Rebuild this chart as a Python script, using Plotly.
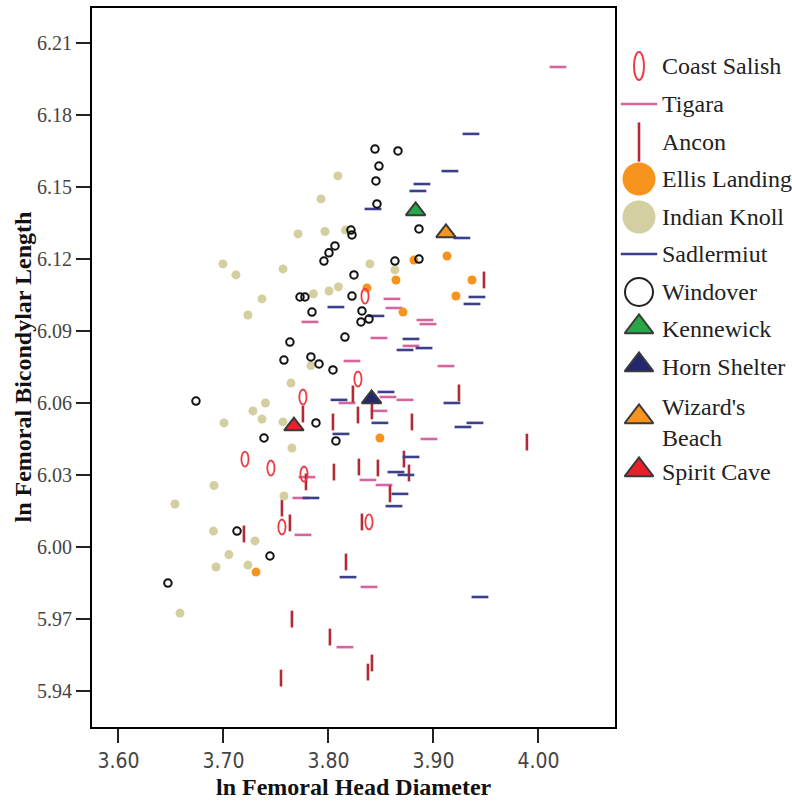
import plotly.graph_objects as go

# ln femoral head diameter (x) against ln femoral bicondylar length (y)

coast_salish_x = [3.8348, 3.8281, 3.7757, 3.7205, 3.7452, 3.7767, 3.7557, 3.8386]
coast_salish_y = [6.1047, 6.0701, 6.0626, 6.0367, 6.0330, 6.0305, 6.0084, 6.0105]

tigara_x = [4.0186, 3.8605, 3.8624, 3.7824, 3.8919, 3.8948, 3.8481, 3.8786, 3.8224, 3.9119, 3.8567,
            3.8729, 3.8176, 3.8481, 3.8957, 3.7795, 3.8376, 3.8529, 3.7738, 3.7757, 3.8386, 3.8157]
tigara_y = [6.2002, 6.1035, 6.0997, 6.0939, 6.0947, 6.0930, 6.0872, 6.0839, 6.0776, 6.0755, 6.0626,
            6.0614, 6.0601, 6.0568, 6.0451, 6.0292, 6.0280, 6.0259, 6.0205, 6.0051, 5.9834, 5.9583]

ancon_x = [3.9481, 3.8233, 3.9243, 3.8281, 3.8414, 3.7757, 3.8043, 3.8795, 3.9890, 3.8719, 3.8052, 3.8290, 3.8471,
           3.8767, 3.8586, 3.7786, 3.7557, 3.7633, 3.7195, 3.8319, 3.8167, 3.7652, 3.8014, 3.8414, 3.8376, 3.7548]
ancon_y = [6.1114, 6.0639, 6.0643, 6.0551, 6.0568, 6.0555, 6.0522, 6.0522, 6.0438, 6.0367, 6.0313, 6.0334, 6.0330,
           6.0309, 6.0222, 6.0272, 6.0163, 6.0101, 6.0055, 6.0105, 5.9938, 5.9700, 5.9625, 5.9517, 5.9479, 5.9454]

ellis_landing_x = [3.9129, 3.8814, 3.9367, 3.9214, 3.8643, 3.8367, 3.8710, 3.8490, 3.7310]
ellis_landing_y = [6.1214, 6.1197, 6.1114, 6.1047, 6.1114, 6.1081, 6.0980, 6.0455, 5.9896]

indian_knoll_x = [3.8090, 3.7929, 3.7710, 3.7967, 3.8162, 3.6995, 3.7119, 3.7567, 3.7367, 3.7233, 3.7857,
                  3.8005, 3.8095, 3.8395, 3.8633, 3.7833, 3.7643, 3.7400, 3.7281, 3.7367, 3.7005, 3.7567,
                  3.7652, 3.6910, 3.6538, 3.7576, 3.6905, 3.7300, 3.7052, 3.6929, 3.7233, 3.6586]
indian_knoll_y = [6.1548, 6.1452, 6.1306, 6.1316, 6.1322, 6.1181, 6.1135, 6.1160, 6.1035, 6.0968, 6.1056,
                  6.1068, 6.1085, 6.1181, 6.1156, 6.0757, 6.0684, 6.0601, 6.0568, 6.0534, 6.0518, 6.0522,
                  6.0413, 6.0257, 6.0180, 6.0213, 6.0067, 6.0026, 5.9969, 5.9917, 5.9925, 5.9725]

sadlermiut_x = [3.9357, 3.9157, 3.8890, 3.8852, 3.8424, 3.9271, 3.9414, 3.9367, 3.8071, 3.8452, 3.8786, 3.8729,
                3.8910, 3.8548, 3.8100, 3.9176, 3.8490, 3.9281, 3.9395, 3.8119, 3.8786, 3.8643, 3.8738, 3.8681,
                3.8624, 3.7833, 3.8186, 3.9443]
sadlermiut_y = [6.1723, 6.1568, 6.1514, 6.1485, 6.1410, 6.1289, 6.1043, 6.1014, 6.1001, 6.0964, 6.0868, 6.0822,
                6.0830, 6.0647, 6.0614, 6.0601, 6.0518, 6.0501, 6.0518, 6.0472, 6.0376, 6.0313, 6.0301, 6.0222,
                6.0171, 6.0205, 5.9875, 5.9792]

windover_x = [3.8443, 3.8662, 3.8481, 3.8452, 3.8462, 3.8214, 3.8224, 3.8862, 3.8062, 3.8005, 3.7957, 3.8633,
              3.8862, 3.8243, 3.8224, 3.7729, 3.7776, 3.7843, 3.8319, 3.8310, 3.8386, 3.8157, 3.7633, 3.7576,
              3.7833, 3.7910, 3.8043, 3.6738, 3.7881, 3.7386, 3.8071, 3.7129, 3.7443, 3.6471]
windover_y = [6.1660, 6.1652, 6.1589, 6.1527, 6.1431, 6.1322, 6.1302, 6.1327, 6.1256, 6.1227, 6.1193, 6.1193,
              6.1201, 6.1135, 6.1047, 6.1043, 6.1043, 6.0980, 6.0985, 6.0939, 6.0951, 6.0876, 6.0855, 6.0780,
              6.0793, 6.0764, 6.0739, 6.0609, 6.0518, 6.0455, 6.0443, 6.0067, 5.9963, 5.9850]

kennewick_x, kennewick_y = [3.8830], [6.1402]
horn_shelter_x, horn_shelter_y = [3.8411], [6.0618]
wizards_beach_x, wizards_beach_y = [3.9119], [6.1310]
spirit_cave_x, spirit_cave_y = [3.7671], [6.0505]

x_ticks = [3.60, 3.70, 3.80, 3.90, 4.00]
y_ticks = [5.94, 5.97, 6.00, 6.03, 6.06, 6.09, 6.12, 6.15, 6.18, 6.21]

legend_names = ["Coast Salish", "Tigara", "Ancon", "Ellis Landing", "Indian Knoll", "Sadlermiut",
                "Windover", "Kennewick", "Horn Shelter", "Wizard's<br>Beach", "Spirit Cave"]

# colours
C_SALISH = "#ef3b45"
C_TIGARA = "#d6649f"
C_ANCON = "#b22a35"
C_ELLIS = "#f7941d"
C_KNOLL = "#d4cfa0"
C_SADLER = "#3c3f8c"
C_WINDOVER = "#111111"
C_KENNEWICK = "#27a846"
C_HORN = "#23286e"
C_WIZARD = "#f7941d"
C_SPIRIT = "#e62129"
TRI_EDGE = "#3a3a3a"

SERIF = "Liberation Serif, Times New Roman, serif"
NARROW = "Liberation Sans Narrow, DejaVu Sans Condensed, Liberation Sans, sans-serif"

W, H = 792, 801
PL, PR, PT, PB = 92, 615, 8, 727   # plot frame in pixels

fig = go.Figure()


def dash_trace(xs, ys, symbol, color, size=12, width=2.6):
    fig.add_trace(go.Scatter(
        x=xs, y=ys, mode="markers", showlegend=False, hoverinfo="skip",
        marker=dict(symbol=symbol, size=size, color=color, line=dict(color=color, width=width)),
    ))


def dot_trace(xs, ys, color, size=9):
    fig.add_trace(go.Scatter(
        x=xs, y=ys, mode="markers", showlegend=False, hoverinfo="skip",
        marker=dict(symbol="circle", size=size, color=color, line=dict(width=0)),
    ))


def tri_trace(xs, ys, color, size=17):
    fig.add_trace(go.Scatter(
        x=xs, y=ys, mode="markers", showlegend=False, hoverinfo="skip",
        marker=dict(symbol="triangle-up", size=size, color=color, line=dict(color=TRI_EDGE, width=2)),
    ))


dash_trace(tigara_x, tigara_y, "line-ew", C_TIGARA)
dash_trace(ancon_x, ancon_y, "line-ns", C_ANCON)
dot_trace(ellis_landing_x, ellis_landing_y, C_ELLIS)
dot_trace(indian_knoll_x, indian_knoll_y, C_KNOLL)
dash_trace(sadlermiut_x, sadlermiut_y, "line-ew", C_SADLER)
fig.add_trace(go.Scatter(
    x=windover_x, y=windover_y, mode="markers", showlegend=False, hoverinfo="skip",
    marker=dict(symbol="circle-open", size=7.5, color=C_WINDOVER, line=dict(color=C_WINDOVER, width=2)),
))
tri_trace(kennewick_x, kennewick_y, C_KENNEWICK)
tri_trace(horn_shelter_x, horn_shelter_y, C_HORN)
tri_trace(wizards_beach_x, wizards_beach_y, C_WIZARD)
tri_trace(spirit_cave_x, spirit_cave_y, C_SPIRIT)

# Coast Salish: thin upright ellipses anchored at the data values
shapes = []
for cx, cy in zip(coast_salish_x, coast_salish_y):
    shapes.append(dict(
        type="circle", xref="x", yref="y", xsizemode="pixel", ysizemode="pixel",
        xanchor=cx, yanchor=cy, x0=-3.6, x1=3.6, y0=-7.5, y1=7.5,
        line=dict(color=C_SALISH, width=1.8), fillcolor="rgba(0,0,0,0)", layer="above",
    ))

# ---- legend panel, laid out on a pixel-scaled helper axis ----
LX_ICON, LX_TEXT = 639, 660
row_y = [66, 104, 142, 179, 217, 254, 292, 329, 367, 422, 472]
icon_y = [66, 104, 142, 179, 217, 254, 292, 327, 365, 417, 470]

legend_icons = [
    None,
    dict(symbol="line-ew", size=26, color=C_TIGARA, line=dict(color=C_TIGARA, width=2.6)),
    dict(symbol="line-ns", size=28, color=C_ANCON, line=dict(color=C_ANCON, width=2.6)),
    dict(symbol="circle", size=33, color=C_ELLIS, line=dict(width=0)),
    dict(symbol="circle", size=33, color=C_KNOLL, line=dict(width=0)),
    dict(symbol="line-ew", size=26, color=C_SADLER, line=dict(color=C_SADLER, width=2.6)),
    dict(symbol="circle-open", size=28, color="#222222", line=dict(color="#222222", width=2)),
    dict(symbol="triangle-up", size=25, color=C_KENNEWICK, line=dict(color=TRI_EDGE, width=2)),
    dict(symbol="triangle-up", size=25, color=C_HORN, line=dict(color=TRI_EDGE, width=2)),
    dict(symbol="triangle-up", size=25, color=C_WIZARD, line=dict(color=TRI_EDGE, width=2)),
    dict(symbol="triangle-up", size=25, color=C_SPIRIT, line=dict(color=TRI_EDGE, width=2)),
]

for icon, iy in zip(legend_icons, icon_y):
    if icon is None:
        continue
    fig.add_trace(go.Scatter(
        x=[LX_ICON], y=[iy], xaxis="x2", yaxis="y2", mode="markers",
        showlegend=False, hoverinfo="skip", cliponaxis=False, marker=icon,
    ))

shapes.append(dict(
    type="circle", xref="x2", yref="y2",
    x0=LX_ICON - 5, x1=LX_ICON + 5, y0=icon_y[0] - 14, y1=icon_y[0] + 14,
    line=dict(color=C_SALISH, width=2), fillcolor="rgba(0,0,0,0)",
))

annotations = []
for name, ty in zip(legend_names, row_y):
    annotations.append(dict(
        x=LX_TEXT, y=ty, xref="x2", yref="y2", text=name, showarrow=False,
        xanchor="left", yanchor="middle", align="left",
        font=dict(family=SERIF, size=24, color="#222222"),
    ))

# axis titles
annotations.append(dict(
    x=(PL + PR) / 2 / W, y=1 - 787 / H, xref="paper", yref="paper",
    text="<b>ln Femoral Head Diameter</b>", showarrow=False, borderpad=0,
    xanchor="center", yanchor="middle", font=dict(family=SERIF, size=24, color="#111111"),
))
annotations.append(dict(
    x=22 / W, y=1 - (PT + PB) / 2 / H, xref="paper", yref="paper",
    text="<b>ln Femoral Bicondylar Length</b>", showarrow=False, textangle=-90, borderpad=0,
    xanchor="center", yanchor="middle", font=dict(family=SERIF, size=24, color="#111111"),
))

fig.update_layout(
    width=W, height=H,
    margin=dict(l=0, r=0, t=0, b=0),
    paper_bgcolor="white", plot_bgcolor="white",
    showlegend=False,
    shapes=shapes,
    annotations=annotations,
    xaxis=dict(
        domain=[PL / W, PR / W], anchor="y",
        range=[3.5748, 4.0729], tickmode="array", tickvals=x_ticks,
        ticktext=[f"{v:.2f}" for v in x_ticks],
        showgrid=False, zeroline=False,
        showline=True, mirror=True, linecolor="black", linewidth=2,
        ticks="outside", ticklen=14, tickwidth=2, tickcolor="#222222",
        tickfont=dict(family=NARROW, size=21, color="#444444"),
        automargin=False,
    ),
    yaxis=dict(
        domain=[1 - PB / H, 1 - PT / H], anchor="x",
        range=[5.9250, 6.2248], tickmode="array", tickvals=y_ticks,
        ticktext=[f"{v:.2f}" for v in y_ticks],
        showgrid=False, zeroline=False,
        showline=True, mirror=True, linecolor="black", linewidth=2,
        ticks="outside", ticklen=14, tickwidth=2, tickcolor="#222222",
        tickfont=dict(family=SERIF, size=20, color="#444444"),
        automargin=False,
    ),
    xaxis2=dict(domain=[PR / W, 1], anchor="y2", range=[PR, W], visible=False, fixedrange=True),
    yaxis2=dict(domain=[0, 1], anchor="x2", range=[H, 0], visible=False, fixedrange=True),
)

fig.write_html("out.html")
